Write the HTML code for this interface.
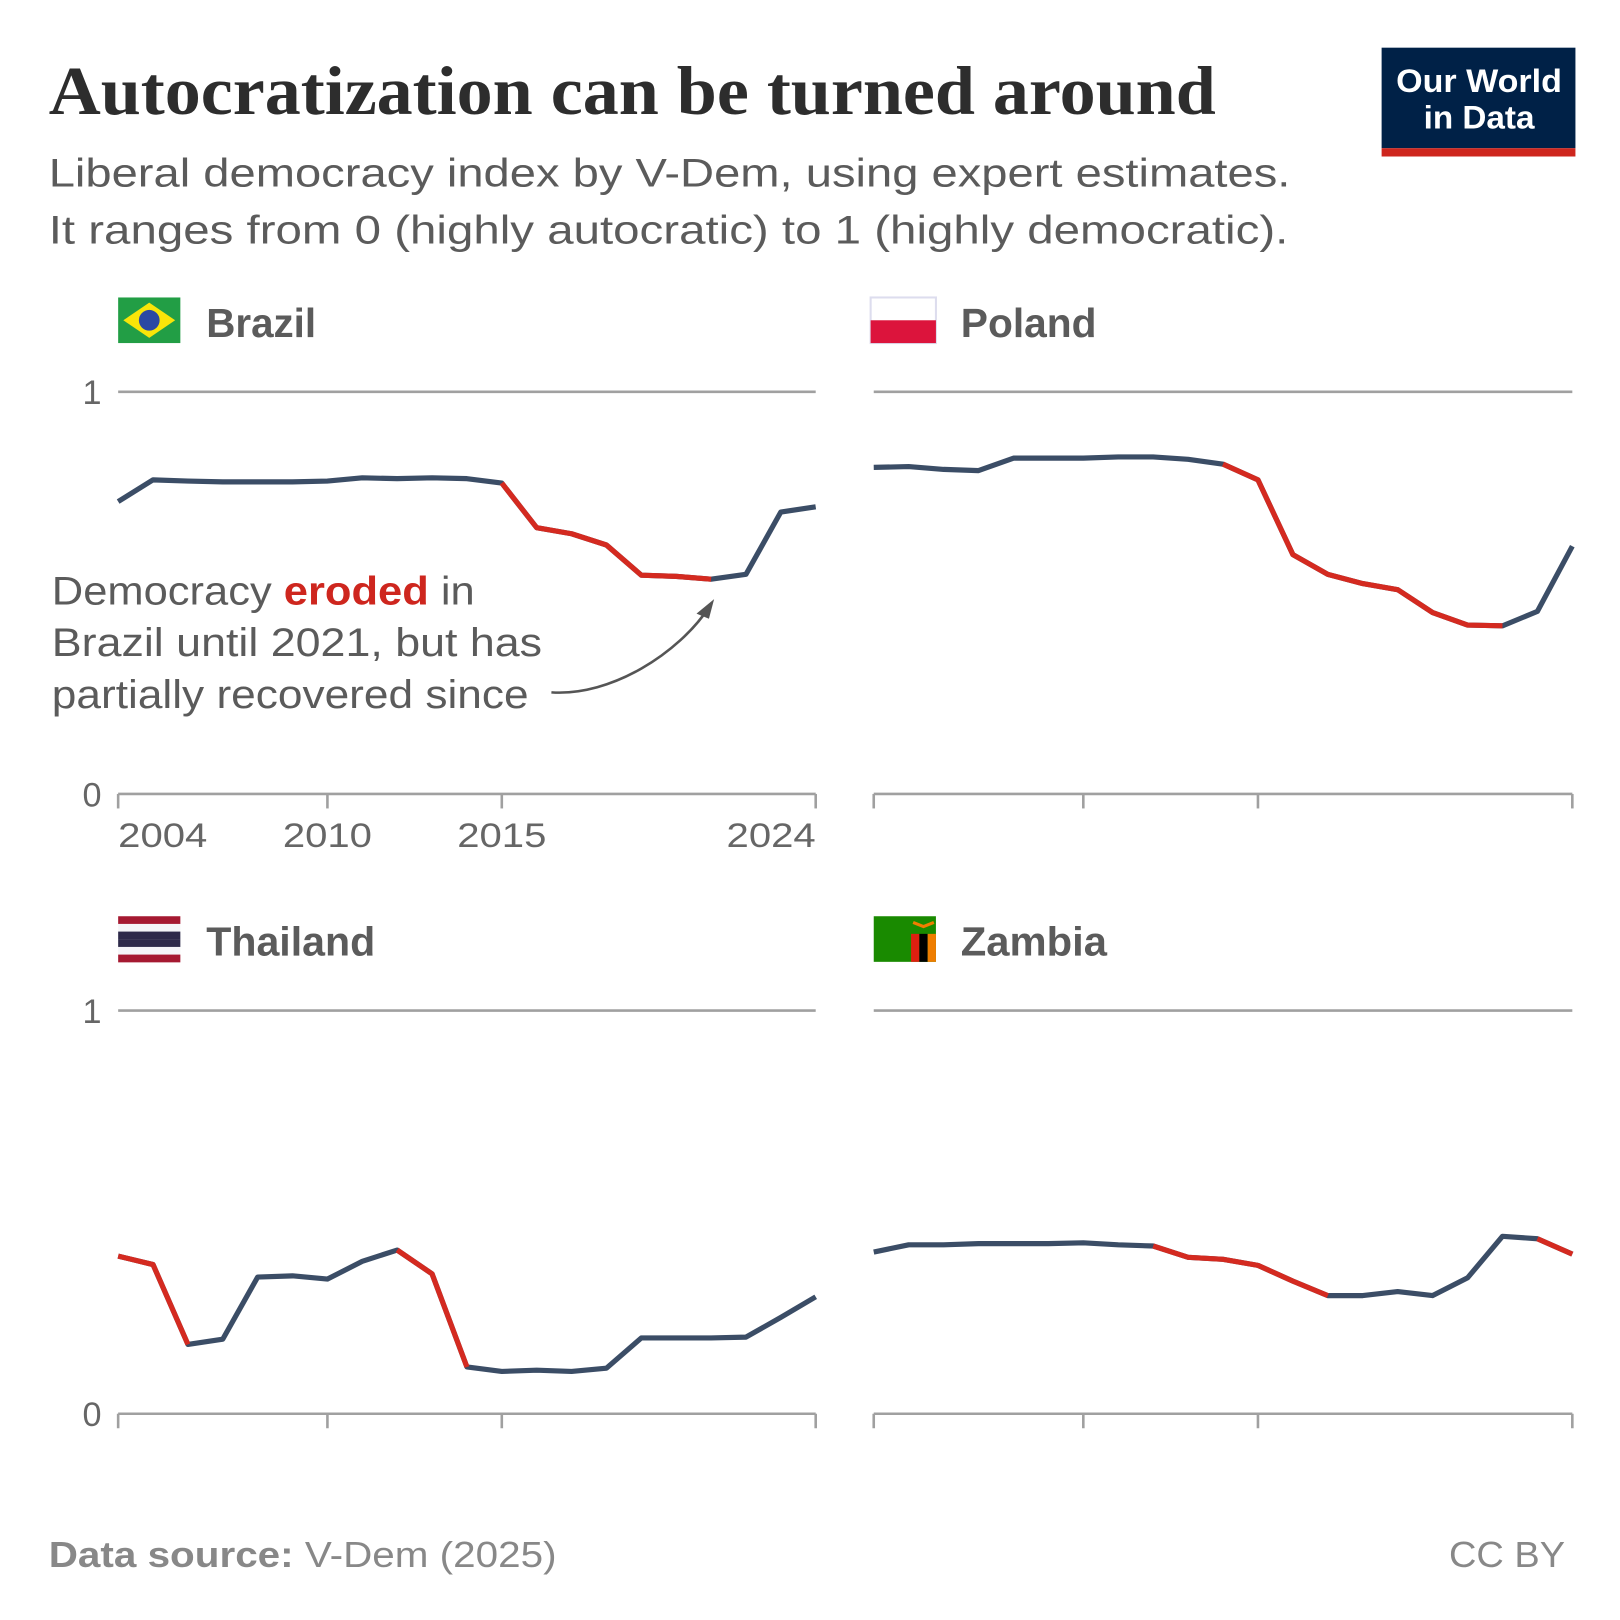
<!DOCTYPE html>
<html><head><meta charset="utf-8"><style>
html,body{margin:0;padding:0;background:#fff}
svg{display:block}
text{font-family:"Liberation Sans",sans-serif}
</style></head><body>
<svg id="chart" width="1620" height="1620" viewBox="0 0 1563 1563" xmlns="http://www.w3.org/2000/svg">
<text x="47" y="110" style="font-family:'Liberation Serif',serif" font-weight="bold" font-size="66" fill="#2d2d2d" textLength="1126" lengthAdjust="spacingAndGlyphs">Autocratization can be turned around</text>
<text x="47" y="180" font-size="38" fill="#5b5b5b" textLength="1198" lengthAdjust="spacingAndGlyphs">Liberal democracy index by V-Dem, using expert estimates.</text>
<text x="47" y="235" font-size="38" fill="#5b5b5b" textLength="1196" lengthAdjust="spacingAndGlyphs">It ranges from 0 (highly autocratic) to 1 (highly democratic).</text>
<g>
<rect x="1333" y="46" width="187" height="97" fill="#002147"/>
<rect x="1333" y="143" width="187" height="8" fill="#ce261e"/>
<text x="1427" y="89" text-anchor="middle" font-size="31" font-weight="bold" fill="#fff" textLength="160" lengthAdjust="spacingAndGlyphs">Our World</text>
<text x="1427" y="124" text-anchor="middle" font-size="31" font-weight="bold" fill="#fff" textLength="107" lengthAdjust="spacingAndGlyphs">in Data</text>
</g>
<g id="panels"></g>
<g>
<text x="50" y="583" font-size="38" fill="#5b5b5b" textLength="408" lengthAdjust="spacingAndGlyphs">Democracy <tspan fill="#ce261e" font-weight="bold">eroded</tspan> in</text>
<text x="50" y="633" font-size="38" fill="#5b5b5b" textLength="473" lengthAdjust="spacingAndGlyphs">Brazil until 2021, but has</text>
<text x="50" y="683" font-size="38" fill="#5b5b5b" textLength="460" lengthAdjust="spacingAndGlyphs">partially recovered since</text>
<path d="M532,668 C590,672 655,630 684,586" fill="none" stroke="#555" stroke-width="2.5"/>
<path d="M689,578 L672,592 L684,597 Z" fill="#555"/>
</g>
<text x="47" y="1512" font-size="35" fill="#888" textLength="490" lengthAdjust="spacingAndGlyphs"><tspan font-weight="bold">Data source:</tspan> V-Dem (2025)</text>
<text x="1510" y="1512" text-anchor="end" font-size="35" fill="#888" textLength="112" lengthAdjust="spacingAndGlyphs">CC BY</text>
</svg>
<script>
const years = [2004,2005,2006,2007,2008,2009,2010,2011,2012,2013,2014,2015,2016,2017,2018,2019,2020,2021,2022,2023,2024];
const brazilValues = [0.727,0.781,0.778,0.776,0.776,0.776,0.778,0.786,0.784,0.786,0.784,0.773,0.662,0.647,0.619,0.544,0.541,0.534,0.546,0.701,0.714];
const polandValues = [0.812,0.814,0.807,0.804,0.835,0.835,0.835,0.838,0.838,0.832,0.820,0.781,0.595,0.546,0.523,0.508,0.451,0.420,0.418,0.454,0.616];
const thailandValues = [0.391,0.370,0.172,0.185,0.339,0.342,0.334,0.378,0.406,0.347,0.116,0.105,0.108,0.105,0.113,0.188,0.188,0.188,0.190,0.239,0.290];
const zambiaValues = [0.401,0.419,0.419,0.422,0.422,0.422,0.424,0.419,0.416,0.388,0.383,0.368,0.329,0.293,0.293,0.303,0.293,0.337,0.440,0.434,0.396];
const brazilRed = [[2015,2021]];
const polandRed = [[2014,2022]];
const thailandRed = [[2004,2006],[2012,2014]];
const zambiaRed = [[2012,2017],[2023,2024]];
const tickYears = [2004,2010,2015,2024];
const yTicks = [0,1];

const NS="http://www.w3.org/2000/svg";
const root=document.getElementById('panels');
function mk(tag,attrs,parent){const e=document.createElementNS(NS,tag);for(const k in attrs)e.setAttribute(k,attrs[k]);parent.appendChild(e);return e;}

const panels=[
 {name:'Brazil',vals:brazilValues,red:brazilRed,x0:114,x1:787,y0:766,y1:378,ty:325,labels:true,yl:true,tw:106},
 {name:'Poland',vals:polandValues,red:polandRed,x0:843,x1:1517,y0:766,y1:378,ty:325,labels:false,yl:false,tw:131},
 {name:'Thailand',vals:thailandValues,red:thailandRed,x0:114,x1:787,y0:1364,y1:975,ty:922,labels:false,yl:true,tw:163},
 {name:'Zambia',vals:zambiaValues,red:zambiaRed,x0:843,x1:1517,y0:1364,y1:975,ty:922,labels:false,yl:false,tw:141}
];

panels.forEach(p=>{
 const g=mk('g',{},root);
 
 
 const xs=y=>p.x0+(y-years[0])/(years[years.length-1]-years[0])*(p.x1-p.x0);
 const ys=v=>p.y0-v*(p.y0-p.y1);
 const fg=mk('g',{},g);
 
 
 const fx=p.name==='Poland'?840:p.x0, fy=p.ty-38;
 if(p.name==='Brazil'){mk('rect',{x:fx,y:fy,width:60,height:44,fill:'#229e45'},fg);mk('polygon',{points:`${fx+5},${fy+22} ${fx+30},${fy+5} ${fx+55},${fy+22} ${fx+30},${fy+39}`,fill:'#f8e509'},fg);mk('circle',{cx:fx+30,cy:fy+22,r:10,fill:'#2b49a3'},fg);}
 if(p.name==='Poland'){mk('rect',{x:fx,y:fy,width:63,height:44,fill:'#fff',stroke:'#dde',"stroke-width":2},fg);mk('rect',{x:fx,y:fy+22,width:63,height:22,fill:'#dc143c'},fg);}
 if(p.name==='Thailand'){const c=['#a51931','#f4f5f8','#2d2a4a','#2d2a4a','#f4f5f8','#a51931'];c.forEach((col,i)=>mk('rect',{x:fx,y:fy+i*7.4,width:60,height:7.5,fill:col},fg));}
 if(p.name==='Zambia'){mk('rect',{x:fx,y:fy,width:60,height:44,fill:'#198a00'},fg);mk('rect',{x:fx+36,y:fy+17,width:8,height:27,fill:'#de2010'},fg);mk('rect',{x:fx+44,y:fy+17,width:8,height:27,fill:'#000'},fg);mk('rect',{x:fx+52,y:fy+17,width:8,height:27,fill:'#ef7d00'},fg);mk('path',{d:`M${fx+38},${fy+6} l10,4 l10,-4`,stroke:'#ef7d00','stroke-width':3,fill:'none'},fg);}
 const t=mk('text',{x:(p.name==='Brazil'||p.name==='Thailand')?199:927,y:p.ty,'font-size':39,'font-weight':'bold',fill:'#5b5b5b',textLength:p.tw,lengthAdjust:'spacingAndGlyphs'},g);t.textContent=p.name;
 
 
 yTicks.forEach(v=>{
  if(v===1){const l=mk('line',{x1:p.x0,x2:p.x1,y1:ys(v),y2:ys(v),stroke:'#a0a0a0','stroke-width':2.5},g);
   
   }
  if(p.yl){const tl=mk('text',{x:98,y:ys(v)+12,'text-anchor':'end','font-size':33,fill:'#666'},g);tl.textContent=v;
   
   }
 });
 const ax=mk('line',{x1:p.x0,x2:p.x1,y1:p.y0,y2:p.y0,stroke:'#a0a0a0','stroke-width':2.5},g);
 
 
 tickYears.forEach(y=>{
  const tk=mk('line',{x1:xs(y),x2:xs(y),y1:p.y0,y2:p.y0+14,stroke:'#a0a0a0','stroke-width':2.5},g);
  
  
  if(p.labels){
   const anchor=y===tickYears[0]?'start':(y===tickYears[tickYears.length-1]?'end':'middle');
   const tl=mk('text',{x:xs(y),y:p.y0+51,'text-anchor':anchor,'font-size':33,fill:'#666',textLength:86,lengthAdjust:'spacingAndGlyphs'},g);tl.textContent=y;
   
   
  }
 });
 const pts=years.map((y,i)=>`${xs(y)},${ys(p.vals[i])}`).join(' ');
 const ln=mk('polyline',{points:pts,fill:'none',stroke:'#3b4d66','stroke-width':5,'stroke-linejoin':'round'},g);
 
 
 p.red.forEach(([a,b])=>{
  const rp=years.map((y,i)=>[y,i]).filter(([y])=>y>=a&&y<=b).map(([y,i])=>`${xs(y)},${ys(p.vals[i])}`).join(' ');
  const r=mk('polyline',{points:rp,fill:'none',stroke:'#d42a20','stroke-width':5,'stroke-linejoin':'round'},g);
  
  
 });
});
</script>
</body></html>
